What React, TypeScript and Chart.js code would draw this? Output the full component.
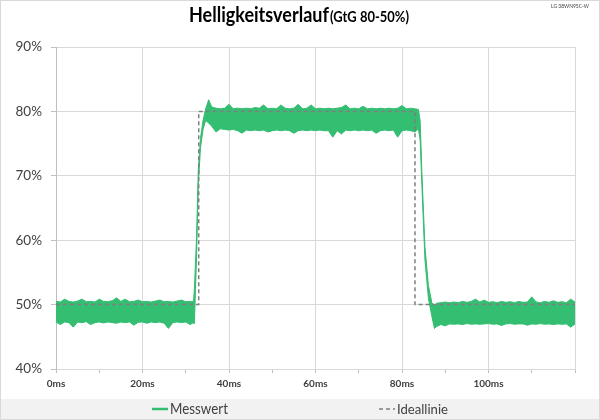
import React, { useEffect, useRef } from 'react';
import { Chart, registerables } from 'chart.js';
Chart.register(...registerables);

const timeMs = [
  0, 1, 2, 3, 4, 5, 6, 7, 8, 9, 10, 11, 12, 13, 14, 15, 16, 17, 18, 19, 20, 21, 22, 23, 24, 25, 26, 27, 28, 29, 30, 31, 31.8,
  32.0, 32.5, 32.9, 33.4, 34.0, 34.6, 35.3,
  36, 37, 38, 39, 40, 41, 42, 43, 44, 45, 46, 47, 48, 49, 50, 51, 52, 53, 54, 55, 56, 57, 58, 59, 60,
  61, 62, 63, 64, 65, 66, 67, 68, 69, 70, 71, 72, 73, 74, 75, 76, 77, 78, 79, 80, 81, 82, 83, 83.8,
  84.2, 84.6, 85.3, 86.1, 86.9, 87.5,
  88, 89, 90, 91, 92, 93, 94, 95, 96, 97, 98, 99, 100, 101, 102, 103, 104, 105, 106, 107, 108, 109, 110,
  111, 112, 113, 114, 115, 116, 117, 118, 119, 120,
];
const upperEdge = [
  50.5, 50.4, 50.85, 50.5, 50.4, 50.55, 50.85, 50.45, 50.5, 50.4, 50.85, 50.5, 50.45, 50.6, 51.05, 50.5, 50.85, 50.45, 50.5, 50.7, 50.45, 50.5, 50.4, 50.55, 50.7, 50.45, 50.5, 50.4, 50.55, 50.7, 50.45, 50.5, 50.5,
  52.5, 60.5, 70.8, 75.8, 78.6, 80.4, 81.8,
  80.7, 80.5, 80.4, 80.5, 81.1, 80.4, 80.5, 80.4, 80.5, 80.4, 80.6, 80.5, 81.0, 80.4, 80.5, 80.4, 81.0, 80.5, 80.4, 80.5, 81.1, 80.4, 80.5, 81.0, 80.4,
  80.5, 80.4, 80.5, 80.4, 80.5, 80.6, 81.0, 80.4, 80.5, 80.4, 80.8, 80.4, 80.5, 80.4, 80.5, 80.4, 80.5, 80.4, 80.5, 80.9, 80.4, 80.5, 80.4, 80.3,
  78.5, 70.5, 59.0, 53.0, 50.3, 49.8,
  50.2, 50.3, 50.4, 50.3, 50.4, 50.3, 50.5, 50.35, 50.5, 50.85, 50.4, 50.7, 50.35, 50.45, 50.3, 50.5, 50.35, 50.45, 50.3, 50.5, 50.35, 50.4, 51.2,
  50.4, 50.3, 50.5, 50.35, 50.6, 50.35, 50.45, 50.3, 50.85, 50.4,
];
const lowerEdge = [
  47.3, 46.9, 47.3, 47.2, 46.5, 47.3, 47.2, 47.35, 46.9, 47.2, 47.3, 47.15, 47.3, 47.2, 47.1, 47.3, 47.2, 47.3, 46.8, 47.25, 47.3, 47.1, 47.3, 47.2, 47.3, 47.1, 46.3, 47.2, 47.3, 47.2, 47.3, 46.9, 47.2,
  47.0, 57.5, 68.5, 74.3, 77.2, 78.6, 78.2,
  77.7, 76.8, 77.3, 77.2, 77.1, 77.2, 77.0, 76.6, 77.1, 77.0, 77.1, 77.0, 77.1, 76.8, 77.0, 77.1, 77.0, 77.1, 77.0, 76.6, 77.0, 77.1, 77.0, 77.1, 77.0,
  77.1, 77.0, 77.0, 76.0, 77.0, 76.5, 77.1, 77.0, 77.1, 77.0, 77.1, 77.0, 77.1, 76.6, 77.0, 77.1, 77.0, 77.1, 76.0, 77.0, 77.1, 77.0, 76.8, 77.3,
  75.5, 68.5, 57.0, 51.0, 48.2, 46.3,
  46.6, 46.9, 46.7, 47.0, 46.95, 47.0, 46.9, 47.05, 46.95, 47.0, 46.95, 47.0, 47.05, 46.95, 47.0, 46.75, 47.0, 47.05, 46.95, 47.0, 47.0, 46.8, 47.0,
  46.95, 47.05, 46.95, 47.0, 46.9, 47.0, 46.95, 47.0, 46.5, 47.0,
];

// Ideal step response
const idealTime = [0, 33, 33, 83, 83, 120];
const idealValue = [50, 50, 80, 80, 50, 50];

const titleMain = 'Helligkeitsverlauf';
const titleSub = '(GtG 80-50%)';
const deviceLabel = 'LG 38WN95C-W';
const seriesNames = ['Messwert', 'Ideallinie'];

const GREEN = '#34be72';
const IDEAL = '#7f7f7f';
const TEXT = '#404040';
const FONT = 'Lato, "Open Sans", sans-serif';

function fitText(ctx: CanvasRenderingContext2D, text: string, x: number, y: number, w: number, weight: string, base: number, vscale = 1) {
  ctx.font = `${weight} ${base}px ${FONT}`;
  const m = ctx.measureText(text).width;
  const size = (base * w) / m;
  ctx.font = `${weight} ${size}px ${FONT}`;
  ctx.save();
  ctx.translate(x, y);
  ctx.scale(1, vscale);
  ctx.fillText(text, 0, 0);
  ctx.restore();
}

const decorPlugin = {
  id: 'decor',
  beforeDraw(chart: any) {
    const ctx = chart.ctx as CanvasRenderingContext2D;
    ctx.save();
    ctx.fillStyle = '#ffffff';
    ctx.fillRect(0, 0, 600, 420);
    ctx.fillStyle = '#f2f2f2';
    ctx.fillRect(0, 399, 600, 21);
    ctx.restore();
  },
  afterDraw(chart: any) {
    const ctx = chart.ctx as CanvasRenderingContext2D;
    ctx.save();
    ctx.textBaseline = 'alphabetic';
    ctx.textAlign = 'left';
    ctx.fillStyle = '#000000';
    fitText(ctx, titleMain, 189, 22, 140, 'bold', 20, 1.12);
    fitText(ctx, titleSub, 330, 22, 79, 'bold', 13, 1.1);
    ctx.fillStyle = TEXT;
    fitText(ctx, deviceLabel, 551, 8, 38, 'normal', 7);

    // legend
    ctx.strokeStyle = GREEN;
    ctx.lineWidth = 2.5;
    ctx.beginPath();
    ctx.moveTo(152, 409);
    ctx.lineTo(168, 409);
    ctx.stroke();
    ctx.fillStyle = TEXT;
    fitText(ctx, seriesNames[0], 170, 414, 58, 'normal', 14, 1.08);

    ctx.strokeStyle = IDEAL;
    ctx.lineWidth = 1.5;
    ctx.setLineDash([4, 3]);
    ctx.beginPath();
    ctx.moveTo(379, 409);
    ctx.lineTo(395, 409);
    ctx.stroke();
    ctx.setLineDash([]);
    fitText(ctx, seriesNames[1], 397, 414, 51, 'normal', 14, 1.08);

    ctx.strokeStyle = '#d9d9d9';
    ctx.lineWidth = 1;
    ctx.strokeRect(0.5, 0.5, 599, 419);
    ctx.restore();
  },
};

export default function App() {
  const ref = useRef<HTMLCanvasElement | null>(null);
  useEffect(() => {
    document.body.style.margin = '0';
    const canvas = ref.current!;
    // band outline: upper edge forward, lower edge backward
    const bandPts = [
      ...timeMs.map((t, i) => ({ x: t, y: upperEdge[i] })),
      ...timeMs.map((t, i) => ({ x: t, y: lowerEdge[i] })).reverse(),
    ];
    const idealPts = idealTime.map((t, i) => ({ x: t, y: idealValue[i] }));
    const chart = new Chart(canvas, {
      type: 'line',
      data: {
        datasets: [
          {
            label: seriesNames[0],
            data: bandPts,
            borderColor: GREEN,
            backgroundColor: GREEN,
            borderWidth: 1,
            pointRadius: 0,
            fill: 'shape',
            order: 2,
          },
          {
            label: seriesNames[1],
            data: idealPts,
            borderColor: IDEAL,
            borderWidth: 1.5,
            borderDash: [4, 3],
            pointRadius: 0,
            fill: false,
            order: 1,
          },
        ],
      },
      options: {
        animation: false,
        responsive: false,
        devicePixelRatio: 1,
        parsing: false as any,
        normalized: false,
        layout: { padding: { top: 47, right: 25, left: 0, bottom: 0 } },
        plugins: {
          legend: { display: false },
          tooltip: { enabled: false },
          title: { display: false },
        },
        scales: {
          x: {
            type: 'linear',
            min: 0,
            max: 120,
            ticks: {
              stepSize: 10,
              autoSkip: false,
              maxRotation: 0,
              padding: 5,
              color: TEXT,
              font: { family: FONT, size: 10, weight: 'bold' },
              callback: (v: any) => (v % 20 === 0 && v < 120 ? v + 'ms' : ''),
            },
            grid: {
              color: (c: any) => (c.tick && c.tick.value % 20 === 0 ? '#d9d9d9' : 'rgba(0,0,0,0)'),
              tickColor: '#bfbfbf',
              tickLength: 4,
            },
            border: { color: '#d9d9d9' },
            afterFit: (s: any) => {
              s.height = 51;
            },
          },
          y: {
            min: 40,
            max: 90,
            ticks: {
              stepSize: 10,
              padding: 9,
              color: TEXT,
              font: { family: FONT, size: 13.5 },
              callback: (v: any) => v + '%',
            },
            grid: { color: '#d9d9d9', tickColor: '#bfbfbf', tickLength: 5 },
            border: { color: '#bfbfbf' },
            afterFit: (s: any) => {
              s.width = 56;
            },
          },
        },
      } as any,
      plugins: [decorPlugin],
    });
    return () => chart.destroy();
  }, []);
  return <canvas ref={ref} width={600} height={420} style={{ display: 'block' }} />;
}
